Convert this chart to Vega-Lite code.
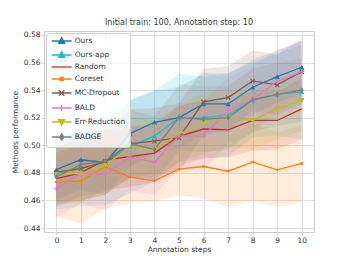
{
  "$schema": "https://vega.github.io/schema/vega-lite/v6.json",
  "autosize": {"type": "none"},
  "width": 270,
  "height": 201,
  "padding": {"left": 44, "top": 31, "right": 35, "bottom": 30},
  "background": "white",
  "title": {"text": "Initial train: 100, Annotation step: 10", "font": "DejaVu Sans", "fontSize": 8, "fontWeight": "normal", "color": "#333333", "offset": 4},
  "config": {
    "view": {"stroke": "#cccccc", "strokeWidth": 1},
    "axis": {"labelFont": "DejaVu Sans", "labelFontSize": 7.5, "labelColor": "#333333", "titleFont": "DejaVu Sans", "titleFontSize": 7.5, "titleFontWeight": "normal", "titleColor": "#333333", "gridColor": "#dedede", "gridWidth": 1, "domainColor": "#cccccc", "tickColor": "#cccccc", "tickSize": 2.5, "labelPadding": 1.5}
  },
  "data": {"values": [
    {"s":"Ours","x":0,"y":0.4823,"lo":0.4603,"hi":0.5043},
    {"s":"Ours","x":1,"y":0.4895,"lo":0.4675,"hi":0.5115},
    {"s":"Ours","x":2,"y":0.4875,"lo":0.4635,"hi":0.5115},
    {"s":"Ours","x":3,"y":0.5085,"lo":0.4845,"hi":0.5325},
    {"s":"Ours","x":4,"y":0.5167,"lo":0.4937,"hi":0.5397},
    {"s":"Ours","x":5,"y":0.5201,"lo":0.4981,"hi":0.5421},
    {"s":"Ours","x":6,"y":0.5300,"lo":0.5080,"hi":0.5520},
    {"s":"Ours","x":7,"y":0.5300,"lo":0.5080,"hi":0.5520},
    {"s":"Ours","x":8,"y":0.5421,"lo":0.5221,"hi":0.5621},
    {"s":"Ours","x":9,"y":0.5498,"lo":0.5308,"hi":0.5688},
    {"s":"Ours","x":10,"y":0.5566,"lo":0.5376,"hi":0.5756},
    {"s":"Ours-app","x":0,"y":0.4795,"lo":0.4535,"hi":0.5055},
    {"s":"Ours-app","x":1,"y":0.4836,"lo":0.4556,"hi":0.5116},
    {"s":"Ours-app","x":2,"y":0.4875,"lo":0.4565,"hi":0.5185},
    {"s":"Ours-app","x":3,"y":0.4990,"lo":0.4650,"hi":0.5330},
    {"s":"Ours-app","x":4,"y":0.5068,"lo":0.4738,"hi":0.5398},
    {"s":"Ours-app","x":5,"y":0.5198,"lo":0.4878,"hi":0.5518},
    {"s":"Ours-app","x":6,"y":0.5200,"lo":0.4900,"hi":0.5500},
    {"s":"Ours-app","x":7,"y":0.5220,"lo":0.4920,"hi":0.5520},
    {"s":"Ours-app","x":8,"y":0.5329,"lo":0.5059,"hi":0.5599},
    {"s":"Ours-app","x":9,"y":0.5370,"lo":0.5070,"hi":0.5670},
    {"s":"Ours-app","x":10,"y":0.5387,"lo":0.5047,"hi":0.5727},
    {"s":"Random","x":0,"y":0.4759,"lo":0.4569,"hi":0.4949},
    {"s":"Random","x":1,"y":0.4800,"lo":0.4590,"hi":0.5010},
    {"s":"Random","x":2,"y":0.4895,"lo":0.4675,"hi":0.5115},
    {"s":"Random","x":3,"y":0.4918,"lo":0.4698,"hi":0.5138},
    {"s":"Random","x":4,"y":0.4943,"lo":0.4733,"hi":0.5153},
    {"s":"Random","x":5,"y":0.5065,"lo":0.4845,"hi":0.5285},
    {"s":"Random","x":6,"y":0.5118,"lo":0.4908,"hi":0.5328},
    {"s":"Random","x":7,"y":0.5112,"lo":0.4912,"hi":0.5312},
    {"s":"Random","x":8,"y":0.5180,"lo":0.4960,"hi":0.5400},
    {"s":"Random","x":9,"y":0.5180,"lo":0.4970,"hi":0.5390},
    {"s":"Random","x":10,"y":0.5264,"lo":0.5044,"hi":0.5484},
    {"s":"Coreset","x":0,"y":0.4733,"lo":0.4483,"hi":0.4983},
    {"s":"Coreset","x":1,"y":0.4740,"lo":0.4430,"hi":0.5050},
    {"s":"Coreset","x":2,"y":0.4845,"lo":0.4545,"hi":0.5145},
    {"s":"Coreset","x":3,"y":0.4769,"lo":0.4579,"hi":0.4959},
    {"s":"Coreset","x":4,"y":0.4742,"lo":0.4592,"hi":0.4892},
    {"s":"Coreset","x":5,"y":0.4827,"lo":0.4637,"hi":0.5017},
    {"s":"Coreset","x":6,"y":0.4846,"lo":0.4616,"hi":0.5076},
    {"s":"Coreset","x":7,"y":0.4812,"lo":0.4552,"hi":0.5072},
    {"s":"Coreset","x":8,"y":0.4878,"lo":0.4598,"hi":0.5158},
    {"s":"Coreset","x":9,"y":0.4822,"lo":0.4552,"hi":0.5092},
    {"s":"Coreset","x":10,"y":0.4868,"lo":0.4588,"hi":0.5148},
    {"s":"MC-Dropout","x":0,"y":0.4805,"lo":0.4585,"hi":0.5025},
    {"s":"MC-Dropout","x":1,"y":0.4830,"lo":0.4600,"hi":0.5060},
    {"s":"MC-Dropout","x":2,"y":0.4882,"lo":0.4642,"hi":0.5122},
    {"s":"MC-Dropout","x":3,"y":0.5012,"lo":0.4762,"hi":0.5262},
    {"s":"MC-Dropout","x":4,"y":0.5030,"lo":0.4790,"hi":0.5270},
    {"s":"MC-Dropout","x":5,"y":0.5055,"lo":0.4805,"hi":0.5305},
    {"s":"MC-Dropout","x":6,"y":0.5315,"lo":0.5075,"hi":0.5555},
    {"s":"MC-Dropout","x":7,"y":0.5346,"lo":0.5116,"hi":0.5576},
    {"s":"MC-Dropout","x":8,"y":0.5467,"lo":0.5247,"hi":0.5687},
    {"s":"MC-Dropout","x":9,"y":0.5438,"lo":0.5218,"hi":0.5658},
    {"s":"MC-Dropout","x":10,"y":0.5534,"lo":0.5294,"hi":0.5774},
    {"s":"BALD","x":0,"y":0.4685,"lo":0.4475,"hi":0.4895},
    {"s":"BALD","x":1,"y":0.4800,"lo":0.4580,"hi":0.5020},
    {"s":"BALD","x":2,"y":0.4786,"lo":0.4526,"hi":0.5046},
    {"s":"BALD","x":3,"y":0.4914,"lo":0.4674,"hi":0.5154},
    {"s":"BALD","x":4,"y":0.4878,"lo":0.4638,"hi":0.5118},
    {"s":"BALD","x":5,"y":0.5068,"lo":0.4828,"hi":0.5308},
    {"s":"BALD","x":6,"y":0.5068,"lo":0.4818,"hi":0.5318},
    {"s":"BALD","x":7,"y":0.5252,"lo":0.5012,"hi":0.5492},
    {"s":"BALD","x":8,"y":0.5332,"lo":0.5092,"hi":0.5572},
    {"s":"BALD","x":9,"y":0.5462,"lo":0.5232,"hi":0.5692},
    {"s":"BALD","x":10,"y":0.5534,"lo":0.5314,"hi":0.5754},
    {"s":"Err-Reduction","x":0,"y":0.4790,"lo":0.4590,"hi":0.4990},
    {"s":"Err-Reduction","x":1,"y":0.4797,"lo":0.4587,"hi":0.5007},
    {"s":"Err-Reduction","x":2,"y":0.4855,"lo":0.4645,"hi":0.5065},
    {"s":"Err-Reduction","x":3,"y":0.4988,"lo":0.4768,"hi":0.5208},
    {"s":"Err-Reduction","x":4,"y":0.4970,"lo":0.4760,"hi":0.5180},
    {"s":"Err-Reduction","x":5,"y":0.5083,"lo":0.4873,"hi":0.5293},
    {"s":"Err-Reduction","x":6,"y":0.5160,"lo":0.4940,"hi":0.5380},
    {"s":"Err-Reduction","x":7,"y":0.5200,"lo":0.4990,"hi":0.5410},
    {"s":"Err-Reduction","x":8,"y":0.5180,"lo":0.4970,"hi":0.5390},
    {"s":"Err-Reduction","x":9,"y":0.5264,"lo":0.5044,"hi":0.5484},
    {"s":"Err-Reduction","x":10,"y":0.5324,"lo":0.5104,"hi":0.5544},
    {"s":"BADGE","x":0,"y":0.4772,"lo":0.4552,"hi":0.4992},
    {"s":"BADGE","x":1,"y":0.4860,"lo":0.4630,"hi":0.5090},
    {"s":"BADGE","x":2,"y":0.4887,"lo":0.4657,"hi":0.5117},
    {"s":"BADGE","x":3,"y":0.5012,"lo":0.4772,"hi":0.5252},
    {"s":"BADGE","x":4,"y":0.4970,"lo":0.4730,"hi":0.5210},
    {"s":"BADGE","x":5,"y":0.5202,"lo":0.4962,"hi":0.5442},
    {"s":"BADGE","x":6,"y":0.5189,"lo":0.4949,"hi":0.5429},
    {"s":"BADGE","x":7,"y":0.5200,"lo":0.4970,"hi":0.5430},
    {"s":"BADGE","x":8,"y":0.5329,"lo":0.5099,"hi":0.5559},
    {"s":"BADGE","x":9,"y":0.5370,"lo":0.5140,"hi":0.5600},
    {"s":"BADGE","x":10,"y":0.5400,"lo":0.5170,"hi":0.5630}
  ]},
  "encoding": {
    "x": {"field": "x", "type": "quantitative", "scale": {"domain": [-0.5, 10.5], "nice": false, "zero": false},
      "axis": {"title": "Annotation steps", "values": [0,1,2,3,4,5,6,7,8,9,10], "labelAngle": 0, "titlePadding": 2}},
    "y": {"field": "y", "type": "quantitative", "scale": {"domain": [0.4371, 0.5829], "nice": false, "zero": false},
      "axis": {"title": "Methods performance", "values": [0.44,0.46,0.48,0.50,0.52,0.54,0.56,0.58], "format": ".2f", "titlePadding": 4}}
  },
  "layer": [
    {
      "layer": [
        {
          "mark": {"type": "area", "opacity": 0.15},
          "encoding": {
            "y": {"field": "lo", "type": "quantitative"},
            "y2": {"field": "hi"}
          }
        },
        {
          "mark": {"type": "line", "strokeWidth": 1.3}
        }
      ],
      "encoding": {
        "color": {"field": "s", "type": "nominal",
          "scale": {"domain": ["Ours","Ours-app","Random","Coreset","MC-Dropout","BALD","Err-Reduction","BADGE"],
                    "range": ["#1f77b4","#17becf","#d62728","#ff7f0e","#8c564b","#e377c2","#bcbd22","#7f7f7f"]},
          "legend": {"title": null, "orient": "top-left", "offset": 2, "padding": 4, "rowPadding": 3,
            "labelFont": "DejaVu Sans", "labelFontSize": 7.5, "labelColor": "#333333",
            "symbolOffset": 7.7, "labelOffset": 9, "symbolSize": 36,
            "fillColor": "rgba(255,255,255,0.8)", "strokeColor": "#cccccc", "cornerRadius": 3,
            "encode": {"symbols": {"update": {
              "shape": {"signal": "datum.value==='Ours'||datum.value==='Ours-app' ? 'M-3.3,0H3.3M0,-1.1L1,0.75H-1Z' : datum.value==='Random' ? 'M-3.3,0H3.3' : datum.value==='Coreset' ? 'M-3.3,0H3.3M-0.5,-0.5H0.5V0.5H-0.5Z' : datum.value==='MC-Dropout' ? 'M-3.3,0H3.3M-0.9,-0.9L0.9,0.9M-0.9,0.9L0.9,-0.9' : datum.value==='BALD' ? 'M-3.3,0H3.3M0,-1V1' : datum.value==='Err-Reduction' ? 'M-3.3,0H3.3M0,1.1L1,-0.75H-1Z' : 'M-3.3,0H3.3M0,-1L0.7,0L0,1L-0.7,0Z'"},
              "fill": {"scale": "color", "field": "value"},
              "stroke": {"scale": "color", "field": "value"},
              "strokeWidth": {"value": 1.3},
              "size": {"value": 36},
              "opacity": {"value": 1},
              "fillOpacity": {"value": 1},
              "strokeOpacity": {"value": 1}
            }}}}
        }
      }
    },
    {
      "transform": [{"filter": "datum.s === 'Ours'"}],
      "mark": {"type": "point", "shape": "triangle-up", "filled": true, "size": 28, "opacity": 1, "color": "#1f77b4"}
    },
    {
      "transform": [{"filter": "datum.s === 'Ours-app'"}],
      "mark": {"type": "point", "shape": "triangle-up", "filled": true, "size": 28, "opacity": 1, "color": "#17becf"}
    },
    {
      "transform": [{"filter": "datum.s === 'Coreset'"}],
      "mark": {"type": "point", "shape": "circle", "filled": true, "size": 8, "opacity": 1, "color": "#ff7f0e"}
    },
    {
      "transform": [{"filter": "datum.s === 'MC-Dropout'"}],
      "mark": {"type": "point", "shape": "M-0.8,-0.8L0.8,0.8M-0.8,0.8L0.8,-0.8", "filled": false, "strokeWidth": 1.1, "size": 28, "opacity": 1, "color": "#8c564b"}
    },
    {
      "transform": [{"filter": "datum.s === 'BALD'"}],
      "mark": {"type": "point", "shape": "M-1,0H1M0,-1V1", "filled": false, "strokeWidth": 1.1, "size": 28, "opacity": 1, "color": "#e377c2"}
    },
    {
      "transform": [{"filter": "datum.s === 'Err-Reduction'"}],
      "mark": {"type": "point", "shape": "triangle-down", "filled": true, "size": 28, "opacity": 1, "color": "#bcbd22"}
    },
    {
      "transform": [{"filter": "datum.s === 'BADGE'"}],
      "mark": {"type": "point", "shape": "M0,-1.1L0.75,0L0,1.1L-0.75,0Z", "filled": true, "size": 28, "opacity": 1, "color": "#7f7f7f"}
    }
  ]
}
